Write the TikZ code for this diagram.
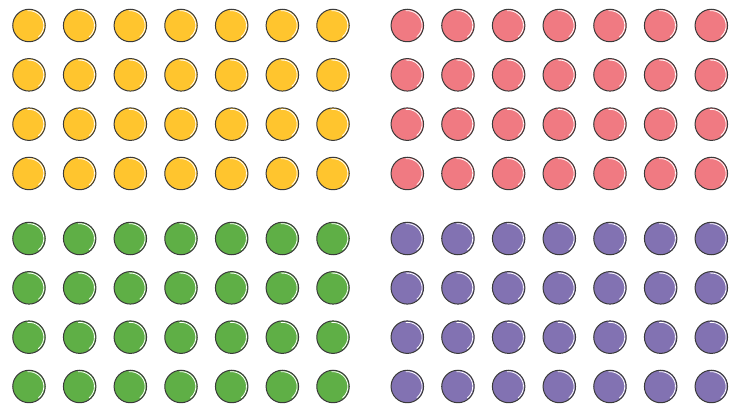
\documentclass[tikz,border=0pt]{standalone}
\definecolor{cyel}{HTML}{FFC52E}
\definecolor{cpink}{HTML}{F07A82}
\definecolor{cgreen}{HTML}{5FAF46}
\definecolor{cpurp}{HTML}{8272B2}
\definecolor{cline}{HTML}{3A3A3A}
\begin{document}
\begin{tikzpicture}[x=1pt,y=-1pt,
  dot/.style={circle,draw=cline,line width=1pt,minimum size=32.5pt,inner sep=0pt},
  shine/.style={white,line width=0.8pt,line cap=round}]
\useasboundingbox (0,0) rectangle (729,406);
\foreach \g/\col/\xo/\yo in {a/cyel/29/25.5, b/cpink/407.3/25.5, c/cgreen/29/238.5, d/cpurp/407.3/238.5}{
  \foreach \i in {0,...,6}{
    \foreach \j in {0,...,3}{
      \node[dot,fill=\col] (\g-\i-\j) at ({\xo+50.67*\i},{\yo+49.33*\j}) {};
      \draw[shine] (\g-\i-\j.center) ++(-95:14.8) arc[start angle=-95,end angle=50,radius=14.8];
    }
  }
}
\end{tikzpicture}
\end{document}
